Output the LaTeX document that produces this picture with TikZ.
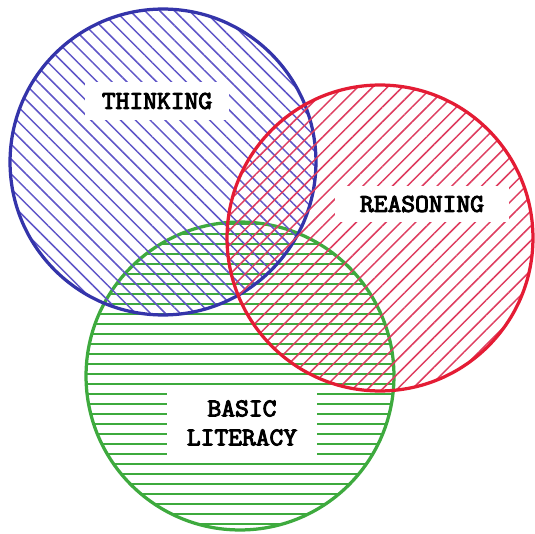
\documentclass[tikz,border=0pt]{standalone}
\usepackage{fontspec}
\usepackage{tikz}
\usetikzlibrary{patterns.meta}
\newfontfamily\vennfont[FakeStretch=1.05,FakeBold=4]{Latin Modern Mono}
\definecolor{thinkblue}{RGB}{52, 52, 170}
\definecolor{hatchblue}{RGB}{95, 85, 200}
\definecolor{reasonred}{RGB}{228, 28, 52}
\definecolor{hatchred}{RGB}{222, 60, 95}
\definecolor{literacygreen}{RGB}{62, 170, 62}

\begin{document}
\begin{tikzpicture}[
    x=0.02cm, y=-0.02cm,
    every node/.style={align=center},
    venn/.style={circle, minimum size=6.12cm, inner sep=0pt, line width=0.065cm},
    caption/.style={rectangle, fill=white, inner sep=0pt, font=\vennfont\fontsize{14.5}{16.5}\selectfont}
]
\useasboundingbox[fill=white] (0,0) rectangle (535,534);

% Circles
\node[venn, minimum size=6.16cm, draw=literacygreen, pattern={Lines[angle=0,distance=0.2cm,line width=1.5pt]}, pattern color=literacygreen] (literacy) at (240,376) {};
\node[venn, draw=thinkblue, pattern={Lines[angle=-45,distance=0.21cm,line width=0.85pt]}, pattern color=hatchblue] (thinking) at (163,162) {};
\node[venn, draw=reasonred, pattern={Lines[angle=45,distance=0.21cm,line width=0.85pt]}, pattern color=hatchred] (reasoning) at (380,238) {};

% Labels
\node[caption, minimum width=2.9cm, minimum height=0.76cm] (thinklabel) at (157,101) {THINKING};
\node[caption, minimum width=3.5cm, minimum height=0.74cm] (reasonlabel) at (422,204) {REASONING};
\node[caption, minimum width=3cm, minimum height=1.36cm] (literacylabel) at (242,423) {BASIC\\LITERACY};

\end{tikzpicture}
\end{document}
